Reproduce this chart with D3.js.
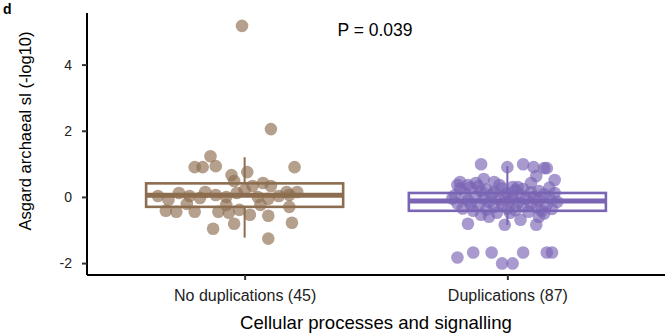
<!DOCTYPE html>
<html>
<head>
<meta charset="utf-8">
<script src="https://cdn.jsdelivr.net/npm/d3@7"></script>
<style>
  body { margin: 0; background: #fff; }
  text { font-family: "Liberation Sans", Arial, sans-serif; }
</style>
</head>
<body>
<div id="chart"></div>
<script>
// groups on the x axis
const groups = ['No duplications (45)', 'Duplications (87)'];
const groupColors = ['#8c6d4f', '#7a64b4'];

// box stats: [lowWhisker, q1, median, q3, highWhisker]
const boxStats = [
    [-1.23, -0.30, 0.05, 0.41, 1.20],
    [-0.85, -0.42, -0.12, 0.12, 0.93]
];

// jittered points: [x offset in category units, value]
const noDupPoints = [
    [-0.01, 5.17], [0.10, 2.05], [-0.13, 1.23], [-0.19, 0.90], [-0.16, 0.90],
    [-0.11, 0.93], [0.19, 0.90], [-0.05, 0.66], [0.01, 0.75], [-0.04, 0.48],
    [0.07, 0.42], [0.10, 0.33], [0.03, 0.33], [0.16, 0.15], [-0.33, 0.03],
    [-0.29, -0.09], [-0.25, 0.12], [-0.21, 0.03], [-0.17, -0.03], [-0.11, 0.06],
    [-0.07, 0.00], [-0.03, 0.12], [0.00, 0.21], [0.05, 0.00], [0.09, -0.06],
    [0.13, 0.03], [0.17, 0.06], [0.20, 0.15], [-0.15, 0.15], [-0.22, -0.21],
    [-0.19, -0.45], [-0.30, -0.42], [-0.10, -0.45], [-0.06, -0.48], [-0.02, -0.39],
    [0.02, -0.54], [-0.04, -0.81], [-0.12, -0.96], [0.09, -1.26], [0.18, -0.78],
    [0.09, -0.57], [0.17, -0.30], [-0.26, -0.45], [-0.07, -0.24], [0.06, -0.24]
];

const dupPoints = [
    [-0.10, 0.99], [0.00, 0.90], [0.06, 0.99], [0.10, 0.90], [0.14, 0.87],
    [0.15, 0.87], [0.18, 0.51], [0.11, 0.63], [0.09, 0.42], [-0.09, 0.54],
    [-0.05, 0.45], [-0.19, 0.36], [-0.15, 0.36], [-0.12, 0.42], [-0.03, 0.36],
    [0.02, 0.30], [-0.18, 0.45],
    [-0.15, -0.81], [-0.01, -0.84], [0.11, -0.84], [0.12, -0.60], [0.05, -0.69],
    [-0.07, -0.60], [-0.10, -0.54], [0.01, -0.48],
    [-0.19, -1.83], [-0.13, -1.68], [-0.06, -1.68], [-0.02, -2.01], [0.02, -2.01],
    [0.06, -1.68], [0.15, -1.68], [0.17, -1.68],
    [-0.20, 0.05], [-0.19, -0.20], [-0.18, 0.25], [-0.17, -0.35], [-0.16, 0.10],
    [-0.15, -0.10], [-0.14, 0.28], [-0.13, -0.42], [-0.12, 0.02], [-0.11, -0.25],
    [-0.10, 0.18], [-0.09, -0.05], [-0.08, -0.38], [-0.08, 0.22], [-0.07, -0.15],
    [-0.06, 0.08], [-0.05, -0.30], [-0.05, 0.15], [-0.04, -0.48], [-0.03, -0.08],
    [-0.02, 0.26], [-0.02, -0.22], [-0.01, 0.04], [0.00, -0.35], [0.00, 0.12],
    [0.01, -0.12], [0.02, -0.02], [0.03, -0.40], [0.03, 0.20], [0.04, -0.18],
    [0.05, 0.06], [0.06, -0.28], [0.06, 0.24], [0.07, -0.06], [0.08, -0.45],
    [0.09, 0.14], [0.09, -0.20], [0.10, 0.00], [0.11, -0.32], [0.12, 0.18],
    [0.12, -0.10], [0.13, -0.42], [0.14, 0.08], [0.15, -0.24], [0.16, 0.28],
    [0.16, -0.02], [0.17, -0.36], [0.18, 0.12], [0.19, -0.15], [-0.21, -0.05],
    [-0.14, -0.22], [-0.11, 0.32], [0.04, 0.30], [0.14, -0.50]
];

const yTicks = [-2, 0, 2, 4];
const pLabel = 'P = 0.039';
const yTitle = 'Asgard archaeal sl (-log10)';
const xTitle = 'Cellular processes and signalling';
const panelTag = 'd';

const chart = (() => {
    const width = 665;
    const height = 333;
    const margin = { top: 13, left: 87, right: 0, bottom: 58 };

    const draw = () => {
        const svg = d3.select('#chart')
            .append('svg')
            .attr('width', width)
            .attr('height', height);

        // continuous x so box width / jitter work in category units
        const x = d3.scaleLinear()
            .domain([0.4, 2.6])
            .range([margin.left, width - margin.right]);

        const y = d3.scaleLinear()
            .domain([-2.36, 5.56])
            .range([height - margin.bottom, margin.top]);

        const boxW = x(0.75) - x(0);

        // boxes
        const boxes = svg.append('g')
            .selectAll('g')
            .data(boxStats)
            .join('g')
            .attr('stroke', (d, i) => groupColors[i])
            .attr('fill', 'none');

        boxes.append('line')
            .attr('x1', (d, i) => x(i + 1)).attr('x2', (d, i) => x(i + 1))
            .attr('y1', d => y(d[3])).attr('y2', d => y(d[4]))
            .attr('stroke-width', 2);
        boxes.append('line')
            .attr('x1', (d, i) => x(i + 1)).attr('x2', (d, i) => x(i + 1))
            .attr('y1', d => y(d[1])).attr('y2', d => y(d[0]))
            .attr('stroke-width', 2);
        boxes.append('rect')
            .attr('x', (d, i) => x(i + 1) - boxW / 2)
            .attr('width', boxW)
            .attr('y', d => y(d[3]))
            .attr('height', d => y(d[1]) - y(d[3]))
            .attr('stroke-width', 2.6);
        boxes.append('line')
            .attr('x1', (d, i) => x(i + 1) - boxW / 2)
            .attr('x2', (d, i) => x(i + 1) + boxW / 2)
            .attr('y1', d => y(d[2])).attr('y2', d => y(d[2]))
            .attr('stroke-width', 5);

        // points
        [noDupPoints, dupPoints].forEach((pts, i) => {
            svg.append('g')
                .selectAll('circle')
                .data(pts)
                .join('circle')
                .attr('cx', d => x(i + 1 + d[0]))
                .attr('cy', d => y(d[1]))
                .attr('r', 6.3)
                .attr('fill', groupColors[i])
                .attr('opacity', 0.65);
        });

        // y axis
        svg.append('g')
            .attr('transform', `translate(${margin.left},0)`)
            .call(d3.axisLeft(y).tickValues(yTicks).tickSize(5).tickPadding(10).tickFormat(d => String(d)))
            .call(g => g.select('.domain').attr('stroke-width', 2).attr('d', `M0,${margin.top}V${height - margin.bottom}`))
            .call(g => g.selectAll('.tick line').attr('stroke-width', 2).attr('stroke', '#333'))
            .call(g => g.selectAll('.tick text').attr('font-size', 14).attr('fill', '#222'));

        // x axis
        svg.append('g')
            .attr('transform', `translate(0,${height - margin.bottom})`)
            .call(d3.axisBottom(x).tickValues([1, 2]).tickSize(5).tickPadding(10)
                .tickFormat(d => groups[d - 1]))
            .call(g => g.select('.domain').attr('stroke-width', 2).attr('d', `M${margin.left},0H${width}`))
            .call(g => g.selectAll('.tick line').attr('stroke-width', 2).attr('stroke', '#333'))
            .call(g => g.selectAll('.tick text').attr('font-size', 16).attr('fill', '#222'));

        svg.append('text')
            .attr('x', 376).attr('y', 329)
            .attr('text-anchor', 'middle')
            .attr('font-size', 18.6)
            .text(xTitle);

        svg.append('text')
            .attr('transform', 'translate(31,131) rotate(-90)')
            .attr('text-anchor', 'middle')
            .attr('font-size', 16.6)
            .text(yTitle);

        svg.append('text')
            .attr('x', 375).attr('y', 36)
            .attr('text-anchor', 'middle')
            .attr('font-size', 17.5)
            .text(pLabel);

        svg.append('text')
            .attr('x', 3).attr('y', 14)
            .attr('font-size', 14)
            .attr('font-weight', 'bold')
            .text(panelTag);
    };

    return { draw };
})();

chart.draw();
</script>
</body>
</html>
